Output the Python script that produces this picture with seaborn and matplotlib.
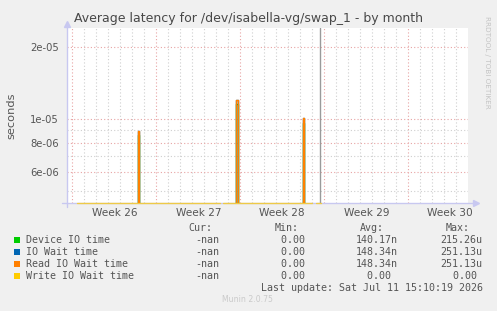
import numpy as np
import pandas as pd
import matplotlib
matplotlib.use("Agg")
import matplotlib.pyplot as plt
import seaborn as sns
from matplotlib.patches import Rectangle
from matplotlib.ticker import NullFormatter, FixedLocator, FixedFormatter
import matplotlib.transforms as mtransforms

# ---------------- data ----------------
SERIES = ["Device IO time", "IO Wait time", "Read IO Wait time", "Write IO Wait time"]
COLORS = ["#00CC00", "#0066B3", "#FF8000", "#FFCC00"]

# time axis in days from the start of week 26
WEEK_LABELS = ["Week 26", "Week 27", "Week 28", "Week 29", "Week 30"]
WEEK_STARTS = [0, 7, 14, 21, 28]
X_RANGE = (-0.44, 32.98)

# spans where data is known (days)
SEGMENTS = [(0.37, 12.31), (12.60, 19.95), (20.30, 20.75)]
SPIKE_DAYS = [5.45, 13.64, 19.20]      # start of the busy sample
SPIKE_WIDTH = 0.15                     # length of one sample (days)
DEVICE_PEAKS = [8.6e-6, 1.16e-5, 9.7e-6]
IOWAIT_PEAKS = [8.93e-6, 1.205e-5, 1.01e-5]
READ_PEAKS = [8.93e-6, 1.205e-5, 1.01e-5]
WRITE_PEAKS = [0.0, 0.0, 0.0]
NOW_DAY = 20.64

Y_RANGE = (4.47e-6, 2.41e-5)
Y_MAJOR = [6e-6, 8e-6, 1e-5, 2e-5]
Y_MAJOR_LABELS = ["6e-06", "8e-06", "1e-05", "2e-05"]
Y_MINOR = [5e-6, 7e-6, 9e-6]

LEG_CUR = ["-nan", "-nan", "-nan", "-nan"]
LEG_MIN = ["0.00 ", "0.00 ", "0.00 ", "0.00 "]
LEG_AVG = ["140.17n", "148.34n", "148.34n", "0.00 "]
LEG_MAX = ["215.26u", "251.13u", "251.13u", "0.00 "]

TITLE = "Average latency for /dev/isabella-vg/swap_1 - by month"
LAST_UPDATE = "Last update: Sat Jul 11 15:10:19 2026"

# --------------- build table ---------------
peaks = {SERIES[0]: DEVICE_PEAKS, SERIES[1]: IOWAIT_PEAKS,
         SERIES[2]: READ_PEAKS, SERIES[3]: WRITE_PEAKS}
rows = []
for name in SERIES:
    for si, (a, b) in enumerate(SEGMENTS):
        pts = [(a, 0.0), (b, 0.0)]
        for t, p in zip(SPIKE_DAYS, peaks[name]):
            if a <= t <= b:
                pts += [(t, p), (t + SPIKE_WIDTH, 0.0)]
        pts.sort()
        for t, v in pts:
            rows.append({"series": name, "seg": si, "day": t, "value": v})
df = pd.DataFrame(rows)
# zero cannot be shown on a log axis: like rrdtool, put it at the bottom edge
df["plot_value"] = np.maximum(df["value"], Y_RANGE[0] * 0.97)
df.loc[df["series"] == SERIES[3], "plot_value"] = np.maximum(
    df.loc[df["series"] == SERIES[3], "value"], Y_RANGE[0])

# --------------- figure ---------------
sns.set_theme(style="white")
plt.rcParams["font.family"] = ["DejaVu Sans"]
W, H = 497, 311
fig = plt.figure(figsize=(W / 100, H / 100), dpi=100, facecolor="#F0F0F0")
L, R, T, B = 67, 468, 28, 203
ax = fig.add_axes([L / W, 1 - B / H, (R - L) / W, (B - T) / H])
ax.set_facecolor("white")

AX_COL = "#C8C8F0"
ax.plot([-0.012, 1.02], [0, 0], transform=ax.transAxes, color=AX_COL, lw=1.0,
        clip_on=False, zorder=2)
ax.plot([0, 0], [-0.02, 1.01], transform=ax.transAxes, color=AX_COL, lw=1.0,
        clip_on=False, zorder=2)
ax.plot([1.02], [0], transform=ax.transAxes, marker=">", color=AX_COL, ms=4,
        clip_on=False, zorder=2)
ax.plot([0], [1.025], transform=ax.transAxes, marker="^", color=AX_COL, ms=4,
        clip_on=False, zorder=2)

main = df[df["series"] != SERIES[3]]
sns.lineplot(data=main, x="day", y="plot_value", hue="series", units="seg",
             estimator=None, hue_order=SERIES[:3], palette=COLORS[:3],
             linewidth=1.0, legend=False, ax=ax, sort=False, zorder=3,
             drawstyle="steps-post")
wr = df[df["series"] == SERIES[3]]
sns.lineplot(data=wr, x="day", y="plot_value", units="seg", estimator=None,
             color=COLORS[3], alpha=0.7, linewidth=1.0, legend=False, ax=ax,
             sort=False, zorder=4, drawstyle="steps-post", clip_on=False)

ax.set_yscale("log")
ax.set_xlim(*X_RANGE)
ax.set_ylim(*Y_RANGE)
for s in ax.spines.values():
    s.set_visible(False)

MGRID = "#E8A4A4"
GRID = "#CFCFCF"
ax.xaxis.set_major_locator(FixedLocator(WEEK_STARTS))
ax.xaxis.set_major_formatter(NullFormatter())
ax.xaxis.set_minor_locator(FixedLocator([d for d in range(0, 33) if d not in WEEK_STARTS]))
ax.xaxis.set_minor_formatter(NullFormatter())
ax.yaxis.set_major_locator(FixedLocator(Y_MAJOR))
ax.yaxis.set_major_formatter(FixedFormatter(Y_MAJOR_LABELS))
ax.yaxis.set_minor_locator(FixedLocator(Y_MINOR))
ax.yaxis.set_minor_formatter(NullFormatter())

ax.grid(True, which="major", color=MGRID, linestyle=(0, (1, 2)), linewidth=0.8)
ax.grid(True, which="minor", color=GRID, linestyle=(0, (1, 2)), linewidth=0.8)
ax.tick_params(axis="both", which="major", length=3, width=0.8, color=MGRID,
               labelsize=7.2, labelcolor="#555555", direction="out", pad=3)
ax.tick_params(axis="both", which="minor", length=3, width=0.8, color=GRID,
               direction="out")
ax.tick_params(axis="x", which="minor", length=0)
ax.set_xlabel("")
ax.set_ylabel("")
ax.set_axisbelow(True)

trans = mtransforms.blended_transform_factory(ax.transData, fig.transFigure)
for ws, lab in zip(WEEK_STARTS, WEEK_LABELS):
    ax.text(ws + 3.5, 1 - 212.5 / H, lab, transform=trans, ha="center", va="center",
            fontsize=7.6, color="#555555")

ax.axvline(NOW_DAY, color="#9A9A9A", linewidth=1.0, zorder=2)

fig.text(248 / W, 1 - 18.5 / H, TITLE, ha="center", va="center", fontsize=9.0, color="#484848")
fig.text(11 / W, 1 - 115.5 / H, "seconds", rotation=90, ha="center", va="center",
         fontsize=8.2, color="#555555")
fig.text(486.5 / W, 1 - 62 / H, "RRDTOOL / TOBI OETIKER", rotation=270, ha="center",
         va="center", fontsize=5.2, color="#C4C4C4")
fig.text(247.7 / W, 1 - 300 / H, "Munin 2.0.75", ha="center", va="center",
         fontsize=5.6, color="#CACACA")

MONO = dict(family="DejaVu Sans Mono", fontsize=7.2, color="#555555", va="center")
hy = 227.7
fig.text(212.3 / W, 1 - hy / H, "Cur:", ha="right", **MONO)
fig.text(298.3 / W, 1 - hy / H, "Min:", ha="right", **MONO)
fig.text(384.3 / W, 1 - hy / H, "Avg:", ha="right", **MONO)
fig.text(470.0 / W, 1 - hy / H, "Max:", ha="right", **MONO)
for i, name in enumerate(SERIES):
    y = 239.7 + 12 * i
    fig.patches.append(Rectangle((14 / W, 1 - (y + 3) / H), 6 / W, 6 / H,
                                 transform=fig.transFigure, facecolor=COLORS[i],
                                 edgecolor="none"))
    fig.text(26 / W, 1 - y / H, name, ha="left", **MONO)
    fig.text(219.3 / W, 1 - y / H, LEG_CUR[i], ha="right", **MONO)
    fig.text(311.0 / W, 1 - y / H, LEG_MIN[i], ha="right", **MONO)
    fig.text(397.3 / W, 1 - y / H, LEG_AVG[i], ha="right", **MONO)
    fig.text(482.7 / W, 1 - y / H, LEG_MAX[i], ha="right", **MONO)
fig.text(482.7 / W, 1 - 287.7 / H, LAST_UPDATE, ha="right", **MONO)

fig.savefig("out.png", dpi=100, facecolor=fig.get_facecolor())
